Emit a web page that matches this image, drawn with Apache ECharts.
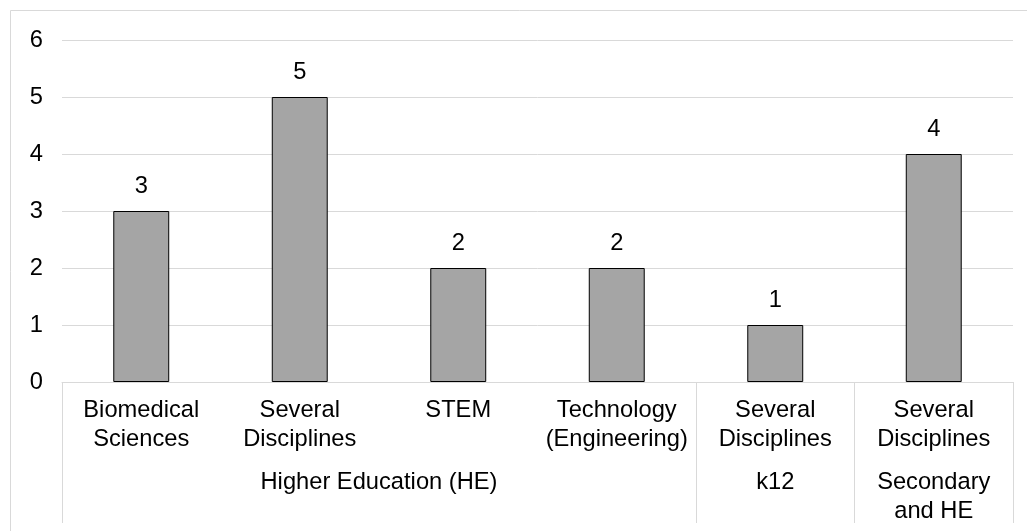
<!DOCTYPE html>
<html>
<head>
<meta charset="utf-8">
<script src="https://cdn.jsdelivr.net/npm/echarts@6/dist/echarts.min.js"></script>
<style>
html,body{margin:0;padding:0;background:#fff;}
#chart{width:1027px;height:531px;}
</style>
</head>
<body>
<div id="chart"></div>
<script>
// ---- data ----
const categories = ['Biomedical\nSciences', 'Several\nDisciplines', 'STEM', 'Technology\n(Engineering)', 'Several\nDisciplines', 'Several\nDisciplines'];
const values = [3, 5, 2, 2, 1, 4];
const groups = ['Higher Education (HE)', 'k12', 'Secondary\nand HE'];
const groupSizes = [4, 1, 1];
const yTicks = [0, 1, 2, 3, 4, 5, 6];

// ---- derived ----
const groupStarts = [];
const groupCenters = [];
let acc = 0;
groupSizes.forEach(function (s) { groupStarts.push(acc); groupCenters.push(acc + s / 2); acc += s; });

const FONT = "'Liberation Sans', Arial, sans-serif";
const FS = 23.7;
const GRID = '#D9D9D9';

const chart = echarts.init(document.getElementById('chart'), null, {renderer: 'canvas'});
chart.setOption({
  animation: false,
  backgroundColor: '#fff',
  textStyle: {fontFamily: FONT},
  grid: {left: 62, right: 14, top: 40, bottom: 149, containLabel: false},
  graphic: [{
    type: 'rect',
    shape: {x: 10.5, y: 10.5, width: 1030, height: 540},
    style: {fill: 'none', stroke: GRID, lineWidth: 1},
    silent: true, z: -1
  }],
  xAxis: [{
    type: 'category',
    data: categories,
    position: 'bottom',
    boundaryGap: true,
    axisLine: {show: true, lineStyle: {color: GRID, width: 1}},
    axisTick: {
      show: true, length: 141,
      lineStyle: {color: GRID, width: 1},
      interval: function (index) { return groupStarts.indexOf(index) >= 0; }
    },
    axisLabel: {
      interval: 0, margin: 14, color: '#000',
      fontFamily: FONT, fontSize: FS, lineHeight: 29, align: 'center'
    },
    splitLine: {show: false}
  }, {
    type: 'value',
    position: 'bottom',
    min: 0, max: categories.length,
    axisLine: {show: false},
    axisTick: {show: false},
    splitLine: {show: false},
    axisLabel: {
      show: true,
      customValues: groupCenters,
      margin: 86, color: '#000',
      fontFamily: FONT, fontSize: FS, lineHeight: 29, align: 'center',
      formatter: function (v) {
        const i = groupCenters.findIndex(function (c) { return Math.abs(c - v) < 1e-6; });
        return i >= 0 ? groups[i] : '';
      }
    }
  }],
  yAxis: {
    type: 'value',
    min: yTicks[0], max: yTicks[yTicks.length - 1], interval: 1,
    axisLine: {show: false},
    axisTick: {show: false},
    axisLabel: {color: '#000', fontFamily: FONT, fontSize: FS, margin: 19},
    splitLine: {show: true, lineStyle: {color: GRID, width: 1}}
  },
  series: [{
    type: 'bar',
    xAxisIndex: 0,
    data: values,
    barWidth: '35.3%',
    itemStyle: {color: '#A5A5A5', borderColor: '#000', borderWidth: 1},
    label: {
      show: true, position: 'top', distance: 13,
      color: '#000', fontFamily: FONT, fontSize: FS, lineHeight: 24
    }
  }]
});
</script>
</body>
</html>
